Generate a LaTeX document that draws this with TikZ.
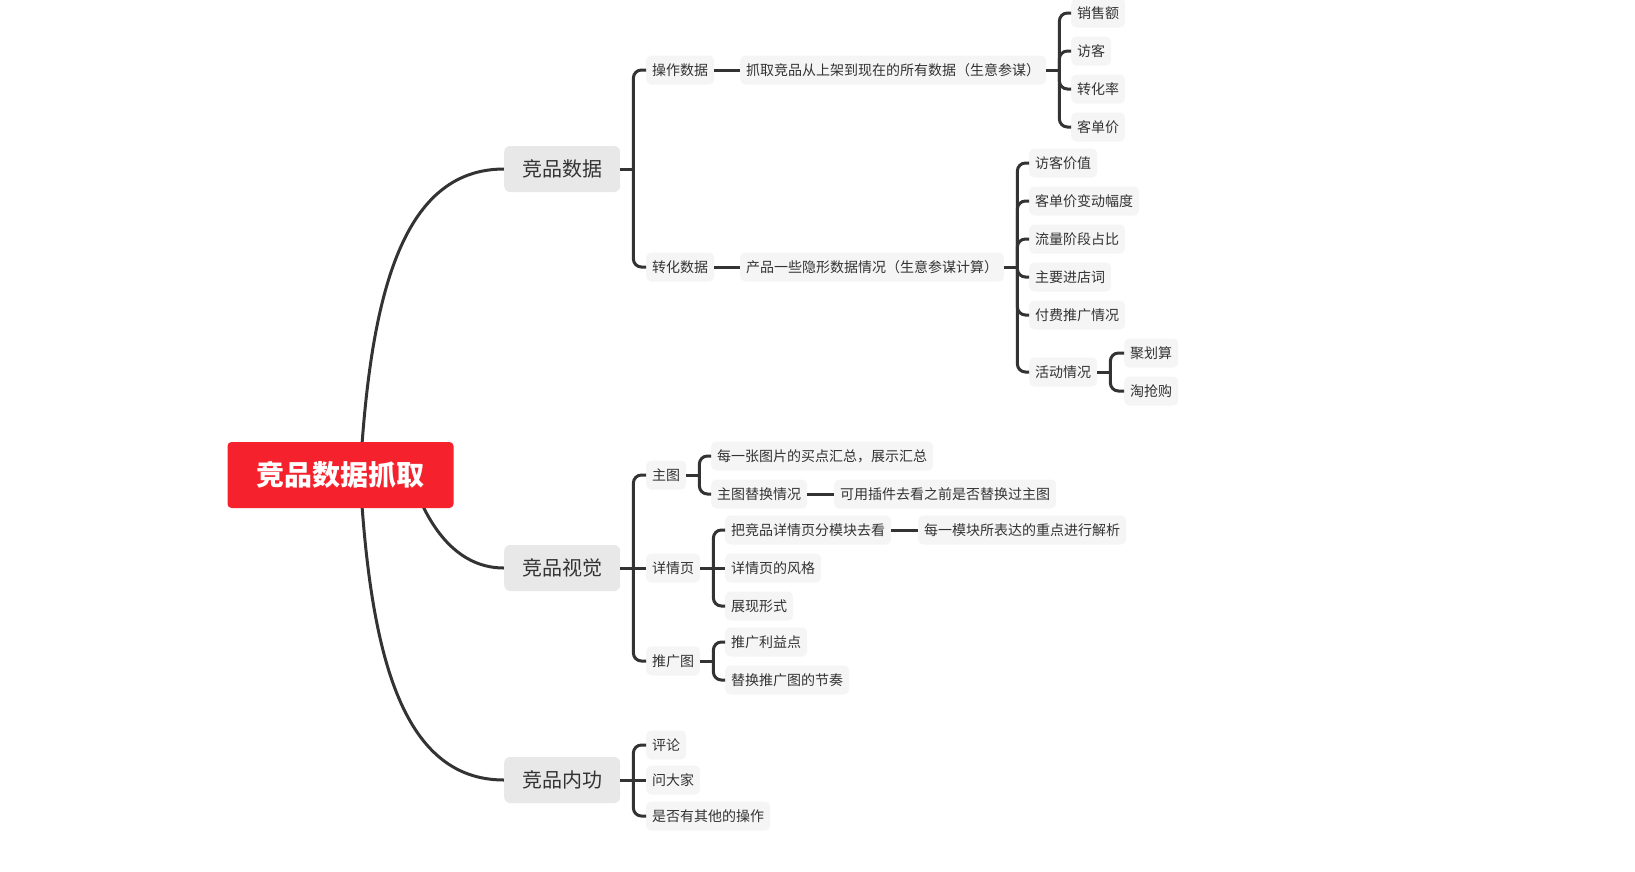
\documentclass[tikz,border=0pt]{standalone}
\usepackage{fontspec}
\newfontfamily\cjk{Noto Sans CJK SC}
\usetikzlibrary{calc}
\definecolor{rootred}{HTML}{F5222D}
\definecolor{lone}{HTML}{E8E8E8}
\definecolor{ltwo}{HTML}{F5F5F5}
\definecolor{ink}{HTML}{333333}
\pgfdeclarelayer{bg}
\pgfsetlayers{bg,main}
\tikzset{
  conn/.style={draw=ink, line width=3pt},
  rootbox/.style={fill=rootred, rounded corners=4pt, minimum width=226pt, minimum height=66pt,
    text=white, font=\cjk\bfseries\fontsize{28}{28}\selectfont, inner sep=0pt},
  lonebox/.style={fill=lone, rounded corners=6pt, inner xsep=18pt, inner ysep=0pt, minimum height=46pt,
    text=ink, font=\cjk\fontsize{20}{20}\selectfont, anchor=west},
  ltwobox/.style={fill=ltwo, rounded corners=5pt, inner xsep=6pt, inner ysep=0pt, minimum height=29pt,
    text=ink, font=\cjk\fontsize{14}{14}\selectfont, anchor=west},
}
\newcommand\brk[2]{%
  \draw[conn] (#1.east) -- ++(13,0) coordinate (#1-b);
  \foreach \c in {#2} {\draw[conn, rounded corners=8pt] (#1-b) |- (\c.west);}
}
\begin{document}
\begin{tikzpicture}[x=1pt, y=-1pt]
\path[use as bounding box] (0,0) rectangle (1635,871);

\node[rootbox] (root) at (340.5,475) {竞品数据抓取};

\node[lonebox] (A) at (504,169) {竞品数据};
\node[lonebox] (B) at (504,568) {竞品视觉};
\node[lonebox] (C) at (504,780) {竞品内功};

% 竞品数据
\node[ltwobox] (a1) at (646,70) {操作数据};
\node[ltwobox] (a2) at (646,267) {转化数据};
\node[ltwobox] (a1x) at (740,70) {抓取竞品从上架到现在的所有数据（生意参谋）};
\node[ltwobox] (a2x) at (740,267) {产品一些隐形数据情况（生意参谋计算）};
\node[ltwobox] (s1) at (1071,13) {销售额};
\node[ltwobox] (s2) at (1071,51) {访客};
\node[ltwobox] (s3) at (1071,89) {转化率};
\node[ltwobox] (s4) at (1071,127) {客单价};
\node[ltwobox] (t1) at (1029,163) {访客价值};
\node[ltwobox] (t2) at (1029,201) {客单价变动幅度};
\node[ltwobox] (t3) at (1029,239) {流量阶段占比};
\node[ltwobox] (t4) at (1029,277) {主要进店词};
\node[ltwobox] (t5) at (1029,315) {付费推广情况};
\node[ltwobox] (t6) at (1029,372) {活动情况};
\node[ltwobox] (u1) at (1124,353) {聚划算};
\node[ltwobox] (u2) at (1124,391) {淘抢购};

% 竞品视觉
\node[ltwobox] (b1) at (646,475) {主图};
\node[ltwobox] (b2) at (646,568) {详情页};
\node[ltwobox] (b3) at (646,661) {推广图};
\node[ltwobox] (b11) at (711,456) {每一张图片的买点汇总，展示汇总};
\node[ltwobox] (b12) at (711,494) {主图替换情况};
\node[ltwobox] (b12x) at (834,494) {可用插件去看之前是否替换过主图};
\node[ltwobox] (b21) at (725,530) {把竞品详情页分模块去看};
\node[ltwobox] (b21x) at (918,530) {每一模块所表达的重点进行解析};
\node[ltwobox] (b22) at (725,568) {详情页的风格};
\node[ltwobox] (b23) at (725,606) {展现形式};
\node[ltwobox] (b31) at (725,642) {推广利益点};
\node[ltwobox] (b32) at (725,680) {替换推广图的节奏};

% 竞品内功
\node[ltwobox] (c1) at (646,745) {评论};
\node[ltwobox] (c2) at (646,780) {问大家};
\node[ltwobox] (c3) at (646,816) {是否有其他的操作};

\begin{pgfonlayer}{bg}
\coordinate (r1) at (360,475);
\coordinate (r2) at (420,500);
\draw[conn] (r1) .. controls (370,300) and (400,169) .. (A.west);
\draw[conn] (r2) .. controls (438,540) and (465,568) .. (B.west);
\draw[conn] (r1) .. controls (370,650) and (400,780) .. (C.west);
\end{pgfonlayer}

\brk{A}{a1,a2}
\draw[conn] (a1.east) -- (a1x.west);
\draw[conn] (a2.east) -- (a2x.west);
\brk{a1x}{s1,s2,s3,s4}
\brk{a2x}{t1,t2,t3,t4,t5,t6}
\brk{t6}{u1,u2}

\brk{B}{b1,b3}
\draw[conn] (B-b) -- (b2.west);
\brk{b1}{b11,b12}
\draw[conn] (b12.east) -- (b12x.west);
\brk{b2}{b21,b23}
\draw[conn] (b2-b) -- (b22.west);
\draw[conn] (b21.east) -- (b21x.west);
\brk{b3}{b31,b32}

\brk{C}{c1,c3}
\draw[conn] (C-b) -- (c2.west);
\end{tikzpicture}
\end{document}
